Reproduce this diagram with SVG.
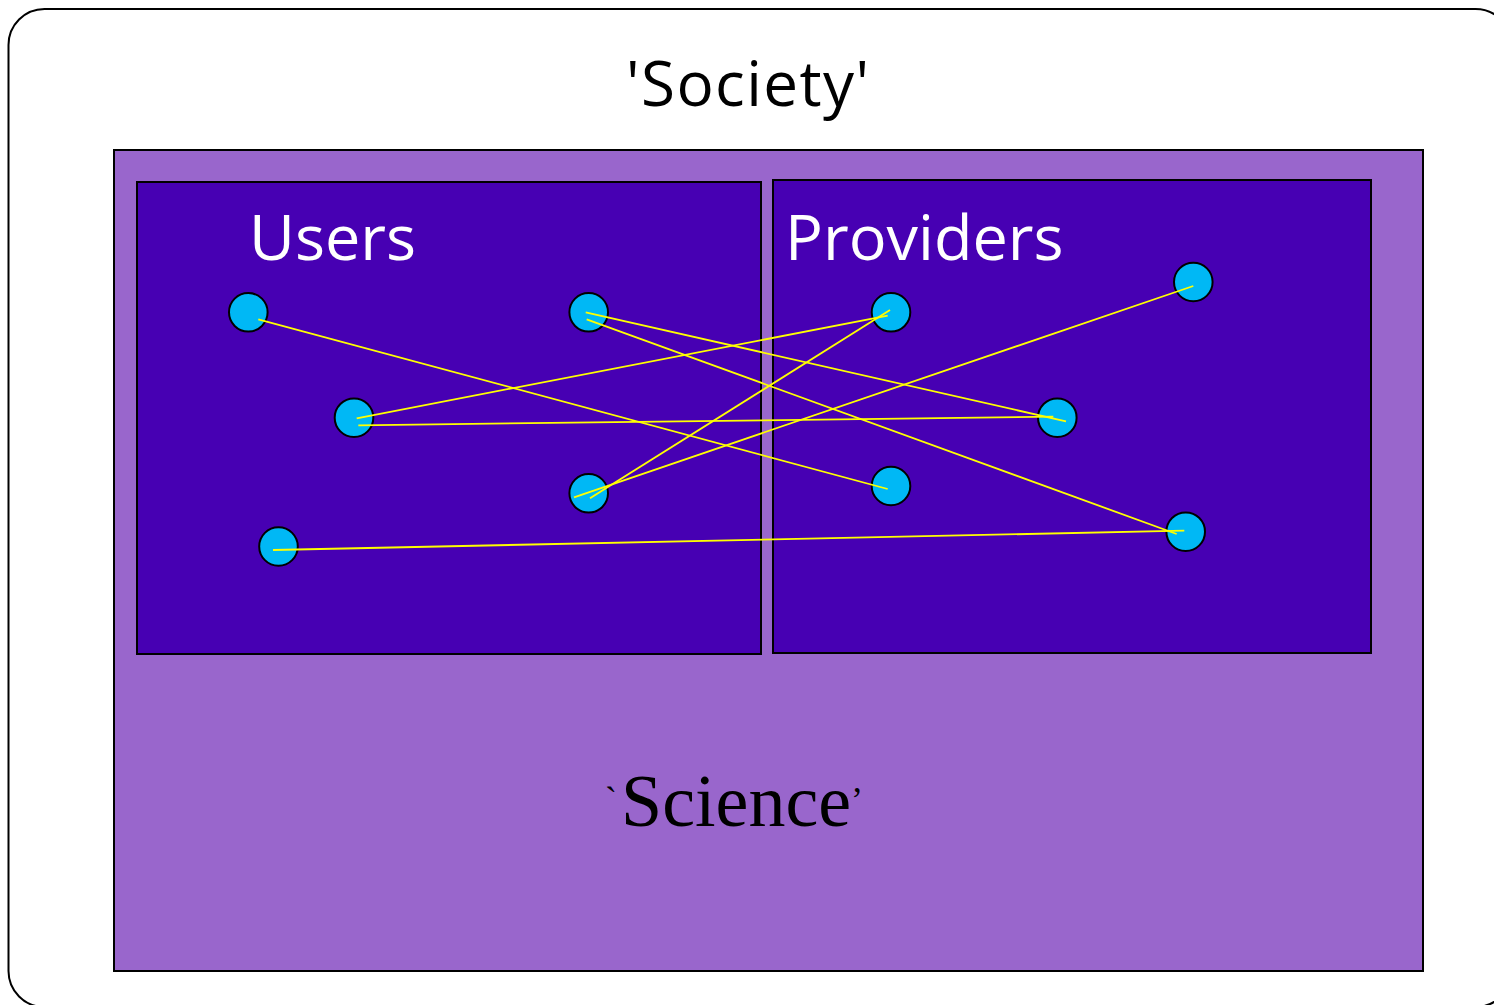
<svg xmlns="http://www.w3.org/2000/svg" width="1494" height="1005" viewBox="0 0 1494 1005">
<style>
.box{fill:#4700B3;stroke:#000;stroke-width:2}
.node{fill:#00B8F5;stroke:#000;stroke-width:2}
.link{stroke:#FFFF00;stroke-width:1.8;fill:none}
.lbl{font-family:"Open Sans","DejaVu Sans",sans-serif;fill:#fff;font-size:63px}
</style>
<rect width="1494" height="1005" fill="#fff"/>
<g id="society">
<rect x="8.5" y="9" width="1503" height="998" rx="36" fill="#fff" stroke="#000" stroke-width="2"/>
<text x="626" y="106" textLength="243" lengthAdjust="spacing" font-family="'Open Sans','DejaVu Sans',sans-serif" font-size="62" fill="#000">'Society'</text>
</g>
<g id="science">
<rect x="114" y="150" width="1309" height="821" fill="#9966CC" stroke="#000" stroke-width="2"/>
<text y="826" font-family="'Liberation Serif','Times New Roman',serif" font-size="74" fill="#000"><tspan x="605" font-size="36" dy="-14">`</tspan><tspan x="621" dy="14">Science</tspan><tspan x="851" font-size="36" dy="-14">’</tspan></text>
</g>
<g id="users">
<rect class="box" x="137" y="182" width="624" height="472"/>
<text class="lbl" x="249" y="260">Users</text>
</g>
<g id="providers">
<rect class="box" x="773" y="180" width="598" height="473"/>
<text class="lbl" x="785" y="260">Providers</text>
</g>
<g id="nodes">
<circle id="u1" class="node" cx="248.3" cy="312.3" r="19.3"/>
<circle id="u2" class="node" cx="588.7" cy="312.3" r="19.3"/>
<circle id="u3" class="node" cx="354" cy="417.7" r="19.3"/>
<circle id="u4" class="node" cx="588.7" cy="493.3" r="19.3"/>
<circle id="u5" class="node" cx="278.5" cy="546.5" r="19.3"/>
<circle id="p1" class="node" cx="891" cy="312.3" r="19.3"/>
<circle id="p2" class="node" cx="1193.3" cy="282" r="19.3"/>
<circle id="p3" class="node" cx="1057.3" cy="417.7" r="19.3"/>
<circle id="p4" class="node" cx="891" cy="486" r="19.3"/>
<circle id="p5" class="node" cx="1185.7" cy="531.7" r="19.3"/>
</g>
<g id="connectors" class="link">
<line x1="258.3" y1="319.3" x2="887.7" y2="489"/>
<line x1="356.7" y1="418.3" x2="887.7" y2="315.7"/>
<line x1="358.3" y1="425.3" x2="1053.3" y2="416.7"/>
<line x1="585.7" y1="312.3" x2="1066" y2="421.3"/>
<line x1="586.7" y1="319.3" x2="1176.7" y2="534"/>
<line x1="574" y1="497.3" x2="1193.3" y2="286"/>
<line x1="590" y1="498.3" x2="890" y2="310"/>
<line x1="273" y1="550" x2="1184.3" y2="530.7"/>
</g>
</svg>
